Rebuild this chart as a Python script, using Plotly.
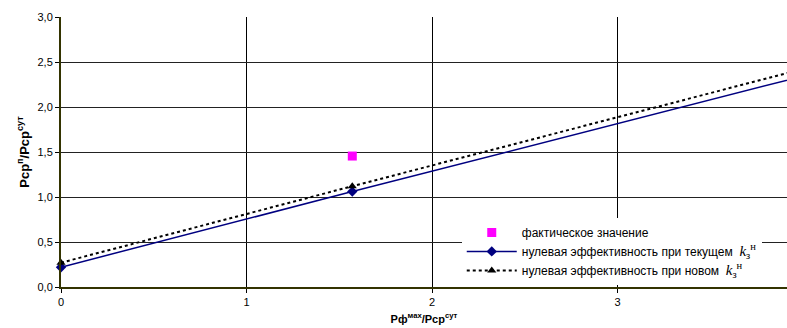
import plotly.graph_objects as go

# Data
x_cur = [0.0, 1.57, 4.2]
y_cur = [0.22, 1.06, 2.45]
x_new = [0.0, 1.57, 4.2]
y_new = [0.27, 1.12, 2.53]
x_fact = [1.57]
y_fact = [1.455]

k_html = "<span style=\"font-family:'Liberation Serif'; font-size:15px\"><i>k</i><sub>з</sub><sup>н</sup></span>"
names = ["фактическое значение",
         "нулевая эффективность при текущем  " + k_html,
         "нулевая эффективность при новом  " + k_html]

x_ticks = [0, 1, 2, 3]
y_ticks = [0.0, 0.5, 1.0, 1.5, 2.0, 2.5, 3.0]

fig = go.Figure()
fig.add_trace(go.Scatter(x=x_fact, y=y_fact, mode="markers", name=names[0],
                         marker=dict(symbol="square", size=9, color="#FF00FF")))
fig.add_trace(go.Scatter(x=x_cur, y=y_cur, mode="lines+markers", name=names[1],
                         line=dict(color="#000080", width=1.5), cliponaxis=False,
                         marker=dict(symbol="diamond", size=8, color="#000080")))
fig.add_trace(go.Scatter(x=x_new, y=y_new, mode="lines+markers", name=names[2],
                         line=dict(color="black", width=2, dash="dot"), cliponaxis=False,
                         marker=dict(symbol="triangle-up", size=8, color="black")))

axis_font = dict(family="Liberation Sans, Arial", size=11, color="black")
fig.update_layout(
    width=787, height=328,
    margin=dict(l=61, r=0, t=17, b=41),
    paper_bgcolor="white", plot_bgcolor="white",
    separators=", ",
    font=axis_font,
    showlegend=True,
    legend=dict(x=0.552, y=0.256, xanchor="left", yanchor="top",
                bgcolor="white", borderwidth=0,
                font=dict(family="Liberation Sans, Arial", size=12, color="black"),
                tracegroupgap=0, itemwidth=50),
    xaxis=dict(range=[0, 3.913], tickvals=x_ticks, ticktext=[str(v) for v in x_ticks],
               showgrid=True, gridcolor="black", gridwidth=1,
               showline=True, linecolor="#333300", linewidth=2,
               ticks="outside", ticklen=4, tickcolor="black",
               zeroline=False,
               title=dict(text="<b>Рф<sup>мах</sup>/Рср<sup>сут</sup></b>",
                          font=dict(family="Liberation Sans, Arial", size=11),
                          standoff=8)),
    yaxis=dict(range=[0, 3.0], tickvals=y_ticks, tickformat=".1f",
               showgrid=True, gridcolor="#222222", gridwidth=1,
               showline=True, linecolor="#333300", linewidth=2,
               ticks="outside", ticklen=4, tickcolor="black",
               zeroline=False,
               title=dict(text="<b>Рср<sup>п</sup>/Рср<sup>сут</sup></b>",
                          font=dict(family="Liberation Sans, Arial", size=13),
                          standoff=5)),
)

fig.write_html("out.html")
